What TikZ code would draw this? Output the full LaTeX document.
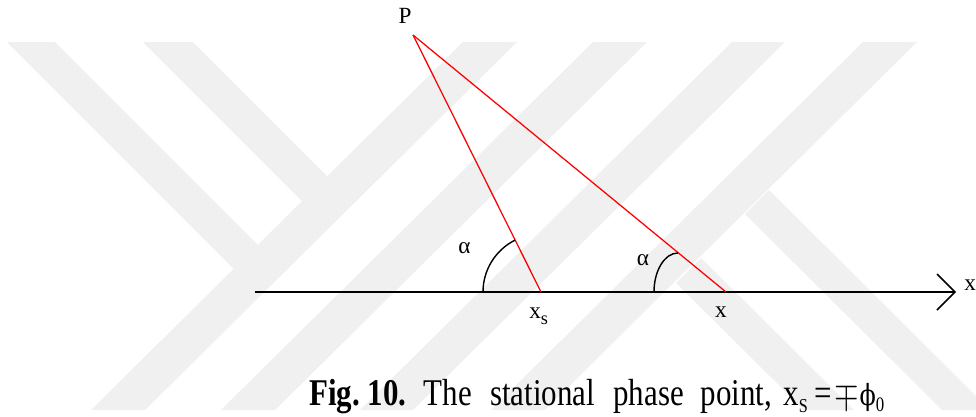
\documentclass[tikz,border=0pt]{standalone}
\usepackage{fontspec}
\setmainfont{Liberation Serif}
\newfontfamily\dvs{DejaVu Serif}
\definecolor{wm}{RGB}{240,240,240}
\definecolor{lred}{RGB}{255,0,0}
\begin{document}
\begin{tikzpicture}[x=0.025cm,y=-0.025cm,
  wmark/.style={fill=wm,draw=none},
  ray/.style={draw=lred,line width=0.9pt},
  axisline/.style={draw=black,line width=1.1pt},
  angarc/.style={draw=black,line width=1pt},
  lab/.style={font=\fontsize{16.5}{19}\selectfont,inner sep=0pt},
  capt/.style={font=\fontsize{22}{26}\selectfont,inner sep=0pt}]
\useasboundingbox (0,0) rectangle (976,416);
\fill[white] (0,0) rectangle (976,416);
% watermark
\begin{scope}
\clip (0,0) rectangle (976,416);
\fill[wmark] (7,42) -- (55,42) -- (259,246) -- (235,270) -- cycle;
\fill[wmark] (143,42) -- (193,42) -- (328,177) -- (303,202) -- cycle;
\fill[wmark] (463,42) -- (517,42) -- (145,410) -- (91,410) -- cycle;
\fill[wmark] (593,42) -- (647,42) -- (275,410) -- (221,410) -- cycle;
\fill[wmark] (732,42) -- (785,42) -- (413,410) -- (360,410) -- cycle;
\fill[wmark] (863,42) -- (917,42) -- (545,410) -- (491,410) -- cycle;
\fill[wmark] (769,190) -- (990,410) -- (942,410) -- (745,214) -- cycle;
\fill[wmark] (701,258) -- (854,410) -- (804,410) -- (676,283) -- cycle;
\end{scope}
\coordinate (P) at (413,35);
\coordinate (XS) at (541,292);
\coordinate (X) at (726,292);
\coordinate (A0) at (255,292);
\coordinate (A1) at (955,292);
\coordinate (E2) at (678,292);
\draw[axisline] (A0) -- (A1);
\draw[axisline] ([shift={(-18,-18)}]A1) -- (A1) -- ([shift={(-18,18)}]A1);
\draw[ray] (P) -- (XS);
\draw[ray] (P) -- (X);
\draw[angarc] ([shift={(-58,0)}]XS) arc[start angle=180,end angle=116.48,radius=1.45cm];
\draw[angarc] ([shift={(-24,0)}]E2) arc[start angle=180,end angle=90,x radius=0.6cm,y radius=0.975cm];
\node[lab,anchor=base] (p) at (405,23) {P};
\node[lab,anchor=base] (a1) at (464.5,253) {α};
\node[lab,anchor=base] (a2) at (643,265) {α};
\node[lab,anchor=base west] (xs) at (529,318) {x\raisebox{-0.3em}{\fontsize{13}{13}\selectfont s}};
\node[lab,anchor=base] (xl) at (721,317) {x};
\node[lab,anchor=base west] (xa) at (964,290) {x};
\node[capt,anchor=base west] (cap) at (309,405) {\scalebox{1}[1.22]{\textbf{Fig.~10.}\hspace{12.5pt}The\hspace{13pt}stational\hspace{13pt}phase\hspace{12pt}point,\hspace{8pt}x\raisebox{-4.5pt}{\fontsize{11.5}{12}\selectfont S}\hspace{4.5pt}=\hspace{2pt}{\fontsize{16}{16}\selectfont\scalebox{1.3}{$\mp$}}\hspace{0.5pt}{\dvs\fontsize{17}{20}\selectfont ϕ}\raisebox{-4pt}{\fontsize{12}{12}\selectfont 0}}};
\end{tikzpicture}
\end{document}
